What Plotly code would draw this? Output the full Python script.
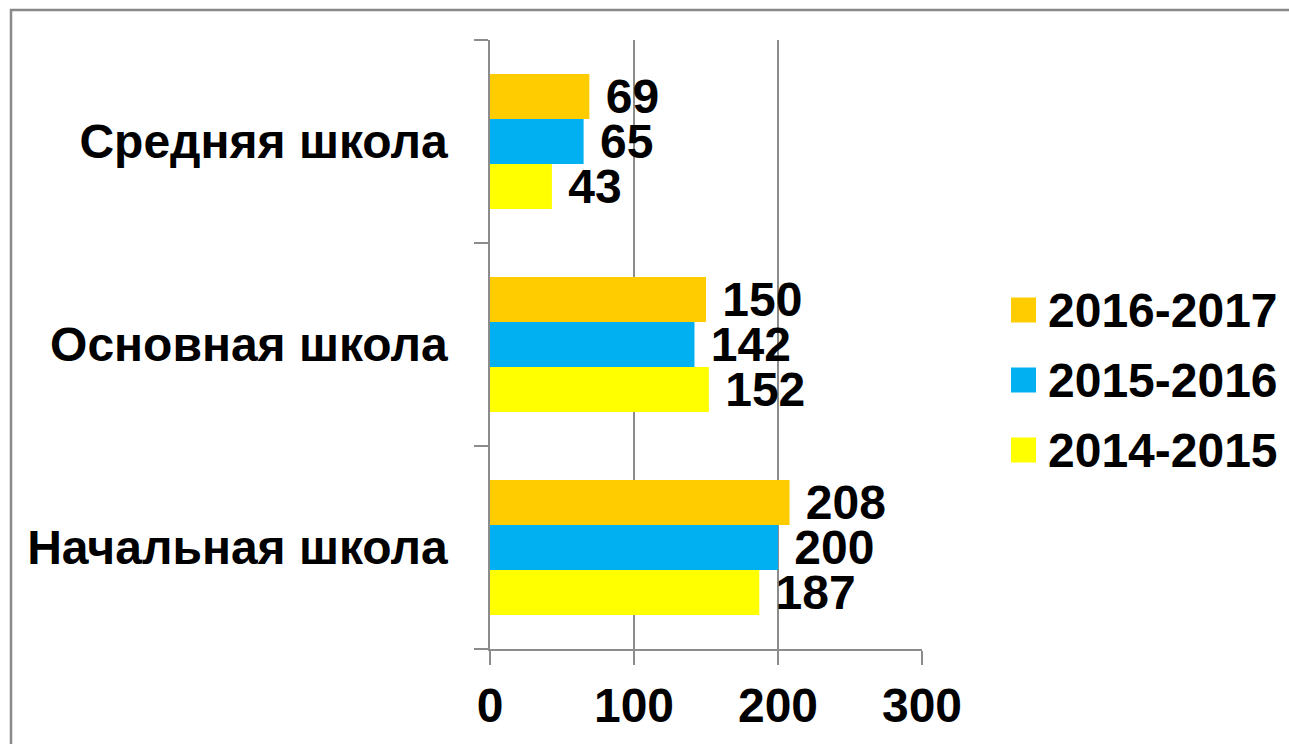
import plotly.graph_objects as go

categories = ["Начальная школа", "Основная школа", "Средняя школа"]
series_names = ["2014-2015", "2015-2016", "2016-2017"]
values_2014 = [187, 152, 43]
values_2015 = [200, 142, 65]
values_2016 = [208, 150, 69]
colors = ["#FFFF00", "#00B0F0", "#FFCC00"]
x_ticks = [0, 100, 200, 300]

W, H = 1289, 744
L, R, T, B = 490, 367, 40, 95
FONT = "Liberation Sans, Arial, sans-serif"
FS = 48

fig = go.Figure()
for i, (name, vals) in enumerate(zip(series_names, [values_2014, values_2015, values_2016])):
    fig.add_trace(go.Bar(
        y=categories, x=vals, orientation="h", name=name,
        marker=dict(color=colors[i], line=dict(width=0)),
        text=[str(v) for v in vals], textposition="outside",
        texttemplate="\u00a0%{text}",
        textfont=dict(family=FONT, size=FS, color="black", weight="bold"),
        cliponaxis=False, constraintext="none",
        showlegend=False,
    ))

pw = W - L - R
ph = H - T - B

def px_x(px):
    return (px - L) / pw

def px_y(py):
    return (H - B - py) / ph

# outer chart border
fig.add_shape(type="rect", xref="paper", yref="paper",
              x0=px_x(11), x1=px_x(1300), y0=px_y(760), y1=px_y(10),
              line=dict(color="#898989", width=2.5), layer="below")

# legend (top entry = latest series)
leg_y = [310, 380, 450]
for k, idx in enumerate([2, 1, 0]):
    cy = leg_y[k]
    fig.add_shape(type="rect", xref="paper", yref="paper",
                  x0=px_x(1011), x1=px_x(1036), y0=px_y(cy + 12.5), y1=px_y(cy - 12.5),
                  fillcolor=colors[idx], line=dict(width=0))
    fig.add_annotation(xref="paper", yref="paper", x=px_x(1046), y=px_y(cy),
                       xanchor="left", yanchor="middle", showarrow=False,
                       text=series_names[idx],
                       font=dict(family=FONT, size=FS, color="black", weight="bold"))

fig.update_layout(
    width=W, height=H,
    margin=dict(l=L, r=R, t=T, b=B, autoexpand=False),
    paper_bgcolor="white", plot_bgcolor="white",
    barmode="group", bargap=0.335, bargroupgap=0,
    showlegend=False,
    xaxis=dict(range=[0, 300], tickvals=x_ticks, showgrid=True,
               gridcolor="#8c8c8c", gridwidth=1.5, zeroline=False,
               showline=True, linecolor="#8c8c8c", linewidth=1.5,
               ticks="outside", ticklen=14, tickwidth=1.5, tickcolor="#8c8c8c",
               ticklabelstandoff=0,
               tickfont=dict(family=FONT, size=FS, color="black", weight="bold")),
    yaxis=dict(categoryorder="array", categoryarray=categories,
               showline=True, linecolor="#8c8c8c", linewidth=1.5,
               ticks="outside", ticklen=14, tickwidth=1.5, tickcolor="#8c8c8c",
               tickson="boundaries", showgrid=False, ticklabelstandoff=31,
               tickfont=dict(family=FONT, size=FS, color="black", weight="bold")),
    uniformtext=dict(mode=False),
)

fig.write_html("out.html", config={"displayModeBar": False},
               post_script="document.body.style.margin='0';")
